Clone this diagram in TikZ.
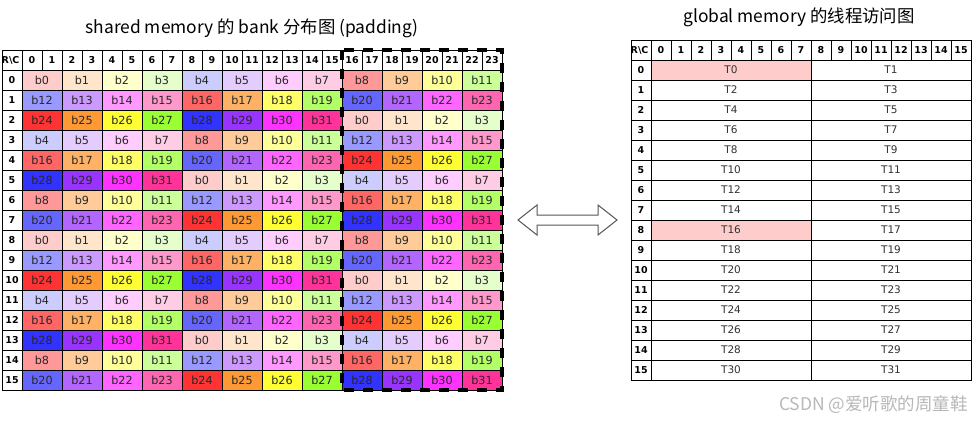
\documentclass[tikz,border=0pt]{standalone}
\usepackage{fontspec}
\setmainfont{DejaVu Sans}
\newfontfamily\cjk{Noto Sans CJK SC}
\definecolor{bk0}{HTML}{FFCCCC}
\definecolor{bk1}{HTML}{FFE5CC}
\definecolor{bk2}{HTML}{FFFFCC}
\definecolor{bk3}{HTML}{E5FFCC}
\definecolor{bk4}{HTML}{CCCCFF}
\definecolor{bk5}{HTML}{E5CCFF}
\definecolor{bk6}{HTML}{FFCCFF}
\definecolor{bk7}{HTML}{FFCCE5}
\definecolor{bk8}{HTML}{FF9999}
\definecolor{bk9}{HTML}{FFCC99}
\definecolor{bk10}{HTML}{FFFF99}
\definecolor{bk11}{HTML}{CCFF99}
\definecolor{bk12}{HTML}{9999FF}
\definecolor{bk13}{HTML}{CC99FF}
\definecolor{bk14}{HTML}{FF99FF}
\definecolor{bk15}{HTML}{FF99CC}
\definecolor{bk16}{HTML}{FF6666}
\definecolor{bk17}{HTML}{FFB266}
\definecolor{bk18}{HTML}{FFFF66}
\definecolor{bk19}{HTML}{B2FF66}
\definecolor{bk20}{HTML}{6666FF}
\definecolor{bk21}{HTML}{B266FF}
\definecolor{bk22}{HTML}{FF66FF}
\definecolor{bk23}{HTML}{FF66B2}
\definecolor{bk24}{HTML}{FF3333}
\definecolor{bk25}{HTML}{FF9933}
\definecolor{bk26}{HTML}{FFFF33}
\definecolor{bk27}{HTML}{99FF33}
\definecolor{bk28}{HTML}{3333FF}
\definecolor{bk29}{HTML}{9933FF}
\definecolor{bk30}{HTML}{FF33FF}
\definecolor{bk31}{HTML}{FF3399}
\definecolor{hilite}{HTML}{FFCCCC}
\definecolor{arrowgray}{HTML}{555555}
\begin{document}
\begin{tikzpicture}[x=1pt,y=-1pt,
  gridline/.style={draw=black, line width=1pt},
  hdr/.style={font=\bfseries\fontsize{9.5}{10}\selectfont, inner sep=0pt},
  rowlab/.style={font=\bfseries\fontsize{9.5}{10}\selectfont, inner sep=0pt},
  celltext/.style={font=\fontsize{11.2}{12}\selectfont, text=black!85, inner sep=0pt},
  ttext/.style={font=\fontsize{10.5}{11}\selectfont, text=black!80, inner sep=0pt},
  titletext/.style={font=\cjk\fontsize{17.4}{19}\selectfont, inner sep=0pt},
  dashborder/.style={draw=black, line width=3.5pt, dash pattern=on 10pt off 9pt}]
\useasboundingbox (0,0) rectangle (972,423);
\fill[white] (0,0) rectangle (972,423);

% ---------- left title ----------
\node[titletext] (ltitle) at (252,28) {shared memory 的 bank 分布图 (padding)};

% ---------- left table header ----------
\draw[gridline] (2,50) rectangle (22,70);
\begin{scope}
  \clip (2,50) rectangle (21,70);
  \node[hdr, anchor=west] (Lcorner) at (1.5,60) {R\textbackslash C};
\end{scope}
\foreach \c in {0,...,23}{
  \draw[gridline] (22+20*\c,50) rectangle ++(20,20);
  \node[hdr] (Lh\c) at (32+20*\c,60) {\c};
}
% ---------- left table body ----------
\foreach \r in {0,...,15}{
  \pgfmathtruncatemacro{\yy}{70+20*\r}
  \draw[gridline] (2,\yy) rectangle ++(20,20);
  \node[rowlab] (Lr\r) at (12,\yy+10) {\r};
  \foreach \c in {0,...,11}{
    \pgfmathtruncatemacro{\bk}{mod(12*\r+\c,32)}
    \pgfmathtruncatemacro{\xx}{22+40*\c}
    \draw[gridline, fill=bk\bk] (\xx,\yy) rectangle ++(40,20);
    \node[celltext] (L\r-\c) at (\xx+20,\yy+10) {b\bk};
  }
}
% dashed padding region
\draw[dashborder] (342,50) rectangle (502,390);

% ---------- double arrow ----------
\draw[draw=arrowgray, fill=white, line width=1pt, line join=miter]
  (518,220) -- (537,205) -- (537,215) -- (598,215) -- (598,205) -- (617,220)
  -- (598,235) -- (598,225) -- (537,225) -- (537,235) -- cycle;

% ---------- right title ----------
\node[titletext] (rtitle) at (799,17) {global memory 的线程访问图};

% ---------- right table header ----------
\draw[gridline] (631,40) rectangle (651,60);
\begin{scope}
  \clip (631,40) rectangle (650,60);
  \node[hdr, anchor=west] (Rcorner) at (630.5,50) {R\textbackslash C};
\end{scope}
\foreach \c in {0,...,15}{
  \draw[gridline] (651+20*\c,40) rectangle ++(20,20);
  \node[hdr] (Rh\c) at (661+20*\c,50) {\c};
}
% ---------- right table body ----------
\foreach \r in {0,...,15}{
  \pgfmathtruncatemacro{\yy}{60+20*\r}
  \pgfmathtruncatemacro{\ta}{2*\r}
  \pgfmathtruncatemacro{\tb}{2*\r+1}
  \draw[gridline] (631,\yy) rectangle ++(20,20);
  \node[rowlab] (Rr\r) at (641,\yy+10) {\r};
  \ifnum\r=0 \def\fa{hilite}\else\ifnum\r=8 \def\fa{hilite}\else\def\fa{white}\fi\fi
  \draw[gridline, fill=\fa] (651,\yy) rectangle ++(160,20);
  \node[ttext] (T\ta) at (731,\yy+10) {T\ta};
  \draw[gridline] (811,\yy) rectangle ++(160,20);
  \node[ttext] (T\tb) at (891,\yy+10) {T\tb};
}

% ---------- watermark ----------
\node[font=\cjk\fontsize{17.5}{19}\selectfont, text=black!28, anchor=east, inner sep=0pt]
  (wm) at (968,405) {CSDN @爱听歌的周童鞋};
\end{tikzpicture}
\end{document}
